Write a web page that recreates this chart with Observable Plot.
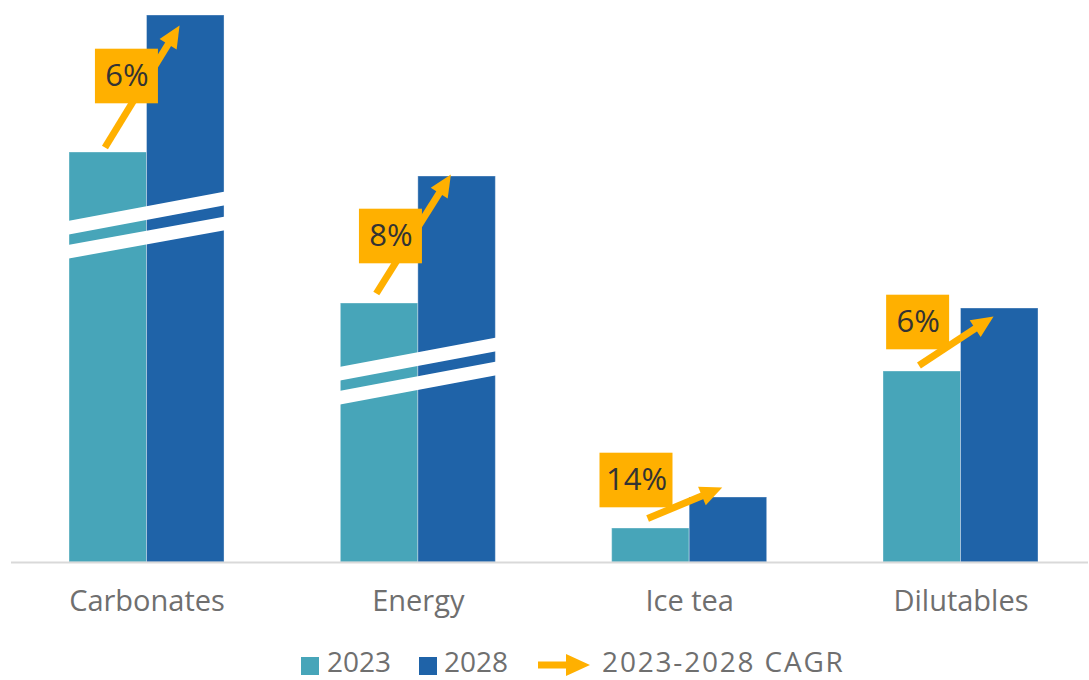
<!DOCTYPE html>
<html>
<head>
<meta charset="utf-8">
<script src="https://cdn.jsdelivr.net/npm/d3@7"></script>
<script src="https://cdn.jsdelivr.net/npm/@observablehq/plot@0.6"></script>
<style>
  body { margin: 0; background: #fff; font-family: "Open Sans", sans-serif; }
  #wrap { position: relative; width: 1089px; height: 680px; }
  #chart { position: absolute; left: 0; top: 0; }
  #legend { position: absolute; left: 301px; top: 641.5px; display: flex; align-items: center;
            font-size: 28px; line-height: normal; color: #6f6f6f; white-space: nowrap; }
  .sw { width: 18px; height: 18px; position: relative; top: 5px; display: inline-block; }
  .lt { display: inline-block; }
</style>
</head>
<body>
<div id="wrap">
  <div id="chart"></div>
  <div id="legend"></div>
</div>
<script>
// ---------- data ----------
const categories = ["Carbonates", "Energy", "Ice tea", "Dilutables"];
const years = ["2023", "2028"];
const values2023 = [410, 259, 34, 191];   // displayed bar heights (broken axis)
const values2028 = [547, 386, 65, 254];
const cagrLabels = ["6%", "8%", "14%", "6%"];
const legendLabels = ["2023", "2028", "2023-2028 CAGR"];
// arrow start / end heights
const arrowFrom = [415, 269, 44, 197];
const arrowTo = [537, 388, 75, 246];
// CAGR label anchors (offset from category centre, height)
const labelOffset = [-0.074, -0.101, -0.196, -0.158];
const labelY = [486, 326, 82, 240];
// axis-break stripes
const breakCategory = ["Carbonates", "Carbonates", "Energy", "Energy"];
const breakLeft = [335, 311, 189, 165];
const breakRight = [364, 339, 218, 194];

// ---------- styles / layout ----------
const W = 1089, H = 630, MB = 68;
const teal = "#47A5B9", blue = "#1F63A8", orange = "#FFB000";
const xDomain = [-0.54, 3.4736];
const yDomain = [0, 562];
const X = d3.scaleLinear(xDomain, [0, W]);
const Y = d3.scaleLinear(yDomain, [H - MB, 0]);
const pxX = W / (xDomain[1] - xDomain[0]);
const BW = 77.5 / pxX;          // bar width in x units
const tailOff = -0.155, tipOff = 0.12;
const HL = 22, HW = 10;         // arrow head length / half width (px)

const bars = [];
categories.forEach((c, i) => {
  bars.push({i, category: c, year: years[0], value: values2023[i]});
  bars.push({i, category: c, year: years[1], value: values2028[i]});
});

const breaks = breakCategory.map((c, k) => {
  const i = categories.indexOf(c);
  const e = 0.012;
  const slope = (breakRight[k] - breakLeft[k]) / (2 * BW);
  return {x1: i - BW - e, y1: breakLeft[k] - slope * e, x2: i + BW + e, y2: breakRight[k] + slope * e};
});

const arrows = categories.map((c, i) => {
  const x1 = i + tailOff, y1 = arrowFrom[i], x2 = i + tipOff, y2 = arrowTo[i];
  const px1 = X(x1), py1 = Y(y1), px2 = X(x2), py2 = Y(y2);
  const L = Math.hypot(px2 - px1, py2 - py1);
  const ux = (px2 - px1) / L, uy = (py2 - py1) / L;
  const sx = X.invert(px2 - ux * (HL - 3)), sy = Y.invert(py2 - uy * (HL - 3));
  return {x1, y1, x2, y2, sx, sy, ux, uy};
});

function headSymbol(ux, uy) {
  return {
    draw(ctx) {
      const bx = -ux * HL, by = -uy * HL;
      const pxp = -uy, pyp = ux;
      ctx.moveTo(0, 0);
      ctx.lineTo(bx + pxp * HW, by + pyp * HW);
      ctx.lineTo(bx - pxp * HW, by - pyp * HW);
      ctx.closePath();
    }
  };
}

const labels = cagrLabels.map((t, i) => {
  const w = 43 + 10 * t.length;
  const hw = (w / 2) / pxX;
  const cx = i + labelOffset[i], cy = labelY[i];
  return {label: t, cx, cy, x1: cx - hw, x2: cx + hw, y1: cy - 27.3, y2: cy + 27.3};
});

const marks = [
  Plot.rect(bars, {
    x1: d => d.i + (d.year === years[0] ? -BW : 0),
    x2: d => d.i + (d.year === years[0] ? 0 : BW),
    y1: 0, y2: "value", fill: "year",
    stroke: "white", strokeOpacity: 0.35, strokeWidth: 1
  }),
  Plot.link(breaks, {x1: "x1", y1: "y1", x2: "x2", y2: "y2", stroke: "white", strokeWidth: 13.5, strokeLinecap: "butt"}),
  Plot.ruleY([0], {x1: X.invert(11), x2: X.invert(1088), stroke: "#d9d9d9", strokeWidth: 2}),
  Plot.link(arrows, {x1: "x1", y1: "y1", x2: "sx", y2: "sy", stroke: orange, strokeWidth: 7, strokeLinecap: "butt"}),
  ...arrows.map(a => Plot.dot([a], {x: "x2", y: "y2", r: 5, symbol: headSymbol(a.ux, a.uy), fill: orange, stroke: "none"})),
  Plot.rect(labels, {x1: "x1", x2: "x2", y1: "y1", y2: "y2", fill: orange}),
  Plot.text(labels, {x: "cx", y: "cy", text: "label", fontSize: 31, fill: "#333333", fontFamily: "Open Sans"}),
  Plot.axisX({ticks: d3.range(categories.length), tickFormat: i => categories[i], tickSize: 0, tickPadding: 28,
              fontSize: 29, label: null, fill: "#6f6f6f"})
];

const chart = Plot.plot({
  width: W, height: H,
  marginLeft: 0, marginRight: 0, marginTop: 0, marginBottom: MB,
  x: {domain: xDomain, range: [0, W]},
  y: {domain: yDomain, axis: null},
  color: {domain: years, range: [teal, blue]},
  style: {fontFamily: "Open Sans", background: "white", color: "#6f6f6f", overflow: "visible"},
  marks
});
document.getElementById("chart").appendChild(chart);

// ---------- legend ----------
const lg = document.getElementById("legend");
lg.innerHTML = `
  <span class="sw" style="background:${teal}"></span>
  <span class="lt" style="margin-left:8px">${legendLabels[0]}</span>
  <span class="sw" style="background:${blue};margin-left:28px"></span>
  <span class="lt" style="margin-left:7px">${legendLabels[1]}</span>
  <svg width="52" height="22" style="margin-left:30px;position:relative;top:4px">
    <rect x="0" y="7.5" width="30" height="7" fill="${orange}"></rect>
    <polygon points="28,0 52,11 28,22" fill="${orange}"></polygon>
  </svg>
  <span class="lt" style="margin-left:12px;letter-spacing:1.8px">${legendLabels[2]}</span>`;
</script>
</body>
</html>
